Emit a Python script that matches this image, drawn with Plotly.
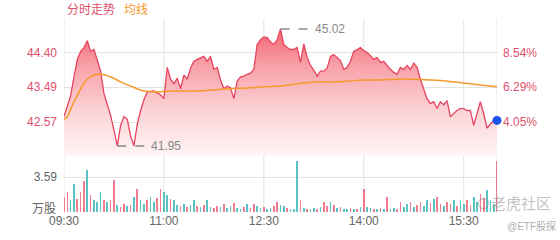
import plotly.graph_objects as go

# ---------------- data ----------------
minutes = list(range(0, 391, 3))  # minutes after 09:30, 3-minute samples
price = [
    42.72, 42.98, 43.27, 43.76, 44.22, 44.43, 44.53, 44.71, 44.43, 44.48,
    44.22, 43.91, 43.32, 43.01, 42.75, 42.36, 41.95, 42.49, 42.72, 42.65,
    42.21, 41.95, 42.52, 42.88, 43.16, 43.37, 43.39, 43.39, 43.34, 43.29,
    43.19, 44.01, 43.70, 43.58, 43.73, 43.45, 43.81, 43.70, 43.99, 44.17,
    44.22, 44.25, 44.30, 44.17, 44.30, 43.96, 44.01, 43.68, 43.45, 43.52,
    43.47, 43.19, 43.65, 43.76, 43.78, 43.83, 43.86, 43.96, 44.61, 44.74,
    44.81, 44.79, 44.68, 44.61, 44.74, 45.02, 44.61, 44.53, 44.48, 44.48,
    44.53, 44.14, 44.63, 44.27, 44.06, 43.94, 43.78, 43.91, 43.91, 43.99,
    44.30, 44.35, 44.27, 44.19, 43.96, 44.01, 44.17, 44.43, 44.48, 44.53,
    44.45, 44.40, 44.32, 44.22, 44.27, 44.14, 44.17, 44.06, 43.96, 43.88,
    43.83, 44.01, 43.96, 44.06, 43.96, 44.12, 44.01, 43.70, 43.45, 43.19,
    43.06, 43.11, 42.93, 43.11, 43.03, 43.14, 42.72, 42.80, 42.88, 42.93,
    42.93, 42.88, 42.88, 42.49, 42.80, 43.11, 42.80, 42.42, 42.52, 42.62,
    42.62,
]
avg_minutes = [0, 3, 6, 9, 12, 15, 18, 21, 27, 33, 42, 51, 60, 72, 84, 96,
               120, 135, 150, 165, 180, 195, 210, 225, 240, 255, 270, 285,
               300, 315, 330, 345, 360, 375, 390]
avg_price = [42.65, 42.72, 42.91, 43.11, 43.27, 43.45, 43.60, 43.70, 43.81,
             43.83, 43.76, 43.63, 43.52, 43.39, 43.37, 43.39, 43.39, 43.42,
             43.45, 43.47, 43.50, 43.52, 43.58, 43.63, 43.63, 43.65, 43.68,
             43.68, 43.70, 43.70, 43.68, 43.65, 43.60, 43.55, 43.50]
volume = [
    1.54, 2.05, 1.23, 2.87, 1.33, 2.05, 3.18, 4.41, 1.74, 1.23,
    1.03, 2.05, 1.23, 1.03, 1.23, 3.38, 0.72, 0.51, 0.82, 0.62,
    0.72, 1.54, 2.36, 1.23, 0.82, 1.23, 1.54, 1.03, 1.44, 2.36,
    2.05, 1.74, 1.33, 1.23, 0.72, 0.62, 0.82, 0.51, 0.72, 1.23,
    0.62, 0.51, 0.72, 1.23, 0.51, 0.41, 0.62, 0.51, 0.82, 0.41,
    0.62, 0.92, 0.41, 0.31, 0.51, 0.82, 0.41, 0.82, 0.62, 0.41,
    0.51, 0.31, 0.41, 0.62, 1.03, 0.72, 0.62, 0.41, 0.31, 0.31,
    5.33, 1.23, 0.41, 0.31, 0.31, 0.41, 0.31, 0.51, 1.03, 0.62,
    1.03, 0.72, 0.41, 0.51, 0.31, 0.31, 0.41, 0.31, 0.31, 0.51,
    2.36, 0.51, 0.41, 0.31, 0.31, 0.41, 0.31, 1.54, 0.31, 0.41,
    0.31, 1.03, 0.51, 0.82, 1.03, 0.51, 0.72, 1.03, 0.62, 1.23,
    0.92, 1.33, 1.54, 0.82, 0.62, 1.03, 0.82, 1.23, 0.62, 1.23,
    0.82, 1.23, 0.72, 1.54, 1.03, 1.85, 1.44, 2.26, 1.23, 0.82,
    5.33,
]
vol_dir = ("RRTTRRRTRT" "TTRTRRTRRT" "RTRTTRTTRR" "TTRTTRTRTT" "RTRTTRRTRT"
           "TRTTRTRRTT" "RTTRRTTRTT" "TRTRTTRTRR" "TRTRTTRTRT" "RTTRTRTRTT"
           "RRTTRTRRTT" "RTRRTRRTRT" "TRRTTRRTTT" "R")
x_tick_vals = [0, 90, 180, 270, 360]
x_tick_text = ["09:30", "11:00", "12:30", "14:00", "15:30"]
grid_minutes = [0, 90, 180, 270, 360, 390]
price_ticks = [42.57, 43.49, 44.40]
price_tick_text = ["42.57", "43.49", "44.40"]
pct_labels = ["4.05%", "6.29%", "8.54%"]
vol_tick = 3.59
vol_tick_text = "3.59"

# ---------------- styles ----------------
RED = "#e8445e"
ORANGE = "#f39a2b"
GRID = "#e3e3e3"
LABEL_RED = "#e0506c"
GRAY = "#666666"
FONT = "Liberation Sans, Noto Sans CJK SC, sans-serif"
P_MIN, P_MAX = 41.69, 45.28

bar_colors = ["rgba(240,100,125,0.85)" if d == "R" else "rgba(60,185,185,0.85)"
              for d in vol_dir[:len(volume)]]

fig = go.Figure()

# invisible baseline at the bottom of the price panel
fig.add_trace(go.Scatter(
    x=minutes, y=[P_MIN] * len(minutes), mode="lines",
    line=dict(width=0, color="rgba(0,0,0,0)"),
    xaxis="x", yaxis="y", showlegend=False, hoverinfo="skip"))

fig.add_trace(go.Scatter(
    x=minutes, y=price, mode="lines", fill="tonexty",
    line=dict(color=RED, width=1.3),
    fillgradient=dict(type="vertical", start=P_MIN, stop=45.1,
                      colorscale=[[0, "rgb(255,246,246)"],
                                  [0.35, "rgb(252,212,215)"],
                                  [0.7, "rgb(248,160,168)"],
                                  [1, "rgb(242,95,110)"]]),
    xaxis="x", yaxis="y", showlegend=False, hoverinfo="skip"))

fig.add_trace(go.Scatter(
    x=avg_minutes, y=avg_price, mode="lines",
    line=dict(color=ORANGE, width=1.5, shape="spline"),
    xaxis="x", yaxis="y", showlegend=False, hoverinfo="skip"))

fig.add_trace(go.Scatter(
    x=[minutes[-1]], y=[price[-1]], mode="markers", cliponaxis=False,
    marker=dict(color="#2152e6", size=9),
    xaxis="x", yaxis="y", showlegend=False, hoverinfo="skip"))

fig.add_trace(go.Bar(
    x=minutes, y=volume, marker=dict(color=bar_colors, line=dict(width=0)),
    width=1.5, xaxis="x2", yaxis="y2", showlegend=False, hoverinfo="skip"))

# vertical grid lines spanning both panels
shapes = []
for gm in grid_minutes:
    shapes.append(dict(type="line", xref="x", yref="paper", x0=gm, x1=gm,
                       y0=0, y1=1, line=dict(color=GRID, width=1), layer="below"))

# max / min markers
i_max = price.index(max(price))
i_min = price.index(min(price))
for idx in (i_max, i_min):
    shapes.append(dict(type="line", xref="x", yref="y",
                       x0=minutes[idx], x1=minutes[idx] + 26,
                       y0=price[idx], y1=price[idx],
                       line=dict(color="#8a8a8a", width=1.5, dash="dash")))

annotations = []
for idx in (i_max, i_min):
    annotations.append(dict(xref="x", yref="y", x=minutes[idx] + 29, y=price[idx],
                            text=f"{price[idx]:.2f}", showarrow=False,
                            xanchor="left", yanchor="middle",
                            font=dict(color="#888888", size=12, family=FONT)))
for v, t in zip(price_ticks, pct_labels):
    annotations.append(dict(xref="paper", yref="y", x=1, y=v, text=t,
                            showarrow=False, xanchor="left", yanchor="middle",
                            xshift=4, font=dict(color=LABEL_RED, size=12, family=FONT)))
annotations += [
    dict(xref="paper", yref="paper", x=0, y=0, text="万股", showarrow=False,
         xanchor="right", yanchor="middle", xshift=-6, yshift=3,
         font=dict(color=GRAY, size=12, family=FONT)),
    dict(xref="paper", yref="paper", x=0, y=1, text="分时走势", showarrow=False,
         xanchor="left", yanchor="bottom", xshift=1, yshift=0,
         font=dict(color=LABEL_RED, size=12, family=FONT)),
    dict(xref="paper", yref="paper", x=0, y=1, text="均线", showarrow=False,
         xanchor="left", yanchor="bottom", xshift=58, yshift=0,
         font=dict(color=ORANGE, size=12, family=FONT)),
    dict(xref="paper", yref="paper", x=0.948, y=0.045, text="⊙老虎社区", showarrow=False,
         xanchor="left", yanchor="middle",
         font=dict(color="rgba(140,140,140,0.55)", size=15, family=FONT)),
    dict(xref="paper", yref="paper", x=1.0, y=0, text="@ETF股探", showarrow=False,
         xanchor="left", yanchor="top", xshift=8, yshift=-6,
         font=dict(color="rgba(150,150,150,0.8)", size=10, family=FONT)),
]

fig.update_layout(
    width=560, height=240,
    margin=dict(l=64, r=63, t=19, b=25),
    paper_bgcolor="white", plot_bgcolor="white",
    shapes=shapes, annotations=annotations,
    font=dict(family=FONT, size=12, color=GRAY),
    xaxis=dict(domain=[0, 1], range=[0, 390], anchor="y", showticklabels=False,
               showgrid=False, zeroline=False, showline=False, ticks=""),
    yaxis=dict(domain=[0.291, 1], range=[P_MIN, P_MAX], tickvals=price_ticks,
               ticktext=price_tick_text, showgrid=True, gridcolor=GRID,
               zeroline=False, showline=False, ticks="", ticklabelstandoff=6,
               tickfont=dict(color=LABEL_RED, size=12, family=FONT)),
    xaxis2=dict(domain=[0, 1], range=[0, 390], anchor="y2",
                tickvals=x_tick_vals, ticktext=x_tick_text,
                showgrid=False, zeroline=False, showline=False, ticks="",
                tickfont=dict(color=GRAY, size=12, family=FONT)),
    yaxis2=dict(domain=[0, 0.281], range=[0, 5.6], tickvals=[vol_tick],
                ticktext=[vol_tick_text], showgrid=True, gridcolor=GRID,
                zeroline=False, showline=False, ticks="", ticklabelstandoff=6,
                tickfont=dict(color=GRAY, size=12, family=FONT)),
    bargap=0,
)

fig.write_html("out.html")
